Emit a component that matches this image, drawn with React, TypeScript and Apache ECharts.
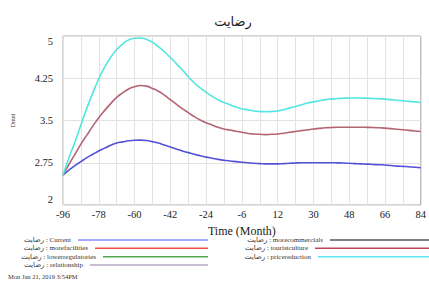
import React, { useEffect, useRef } from "react";
import * as echarts from "echarts";

const times = [-96, -93, -90, -87, -84, -81, -78, -75, -72, -69, -66, -63, -60, -57, -54, -51, -48, -45, -42, -39, -36, -33, -30, -27, -24, -21, -18, -15, -12, -9, -6, -3, 0, 3, 6, 9, 12, 15, 18, 21, 24, 27, 30, 33, 36, 39, 42, 45, 48, 51, 54, 57, 60, 63, 66, 69, 72, 75, 78, 81, 84];

const current = [2.53, 2.62, 2.7, 2.77, 2.84, 2.9, 2.96, 3.01, 3.06, 3.1, 3.12, 3.14, 3.15, 3.152, 3.145, 3.125, 3.1, 3.065, 3.03, 2.995, 2.96, 2.93, 2.9, 2.875, 2.85, 2.83, 2.81, 2.795, 2.78, 2.77, 2.76, 2.75, 2.74, 2.735, 2.73, 2.73, 2.73, 2.735, 2.74, 2.745, 2.75, 2.75, 2.75, 2.75, 2.75, 2.75, 2.748, 2.745, 2.74, 2.735, 2.73, 2.725, 2.72, 2.715, 2.71, 2.7, 2.69, 2.685, 2.68, 2.67, 2.66];
const touristculture = [2.53, 2.72, 2.9, 3.08, 3.24, 3.4, 3.55, 3.68, 3.8, 3.91, 3.99, 4.06, 4.1, 4.12, 4.11, 4.07, 4.02, 3.95, 3.87, 3.79, 3.71, 3.64, 3.57, 3.51, 3.46, 3.42, 3.38, 3.35, 3.33, 3.31, 3.29, 3.27, 3.26, 3.255, 3.25, 3.255, 3.26, 3.275, 3.29, 3.305, 3.32, 3.335, 3.35, 3.36, 3.37, 3.375, 3.38, 3.38, 3.38, 3.38, 3.38, 3.378, 3.375, 3.37, 3.365, 3.355, 3.345, 3.335, 3.325, 3.315, 3.305];
const pricereduction = [2.53, 2.84, 3.12, 3.42, 3.72, 3.99, 4.24, 4.45, 4.62, 4.76, 4.86, 4.93, 4.96, 4.965, 4.94, 4.89, 4.81, 4.72, 4.62, 4.51, 4.4, 4.28, 4.17, 4.08, 4.0, 3.93, 3.87, 3.82, 3.78, 3.74, 3.71, 3.69, 3.67, 3.66, 3.655, 3.66, 3.67, 3.69, 3.72, 3.75, 3.78, 3.81, 3.83, 3.85, 3.87, 3.88, 3.89, 3.895, 3.9, 3.9, 3.9, 3.895, 3.89, 3.885, 3.88, 3.87, 3.86, 3.85, 3.84, 3.83, 3.82];

const xTicks = { min: -96, max: 84, step: 18 };
const yTicks = { min: 2, max: 5, step: 0.75 };

const titleText = "رضایت";
const varPrefix = "رضایت : ";
const dateText = "Mon Jan 21, 2019 3:54PM";

const leftLegend = ["Current", "morefacilities", "lowerregulatories", "relationship"];
const rightLegend = ["morecommercials", "touristculture", "pricereduction"];

const lineColors: Record<string, string> = {
  Current: "#5252d6",
  morefacilities: "#f05050",
  lowerregulatories: "#4fa84f",
  relationship: "#b4a8c4",
  morecommercials: "#555555",
  touristculture: "#b46472",
  pricereduction: "#52e6e0",
};
const legendColors: Record<string, string> = {
  Current: "#8a8aff",
  morefacilities: "#f05050",
  lowerregulatories: "#4fa84f",
  relationship: "#b4a8c4",
  morecommercials: "#555555",
  touristculture: "#c04656",
  pricereduction: "#5ae6f2",
};
const seriesData: Record<string, number[]> = {
  Current: current,
  touristculture: touristculture,
  pricereduction: pricereduction,
};

const FONT = "'Liberation Serif', 'DejaVu Sans', serif";

export default function App() {
  const ref = useRef<HTMLDivElement>(null);
  useEffect(() => {
    if (!ref.current) return;
    const chart = echarts.init(ref.current, null, { renderer: "svg" });
    const drawOrder = ["morefacilities", "lowerregulatories", "relationship", "morecommercials", "Current", "touristculture", "pricereduction"];
    const series = drawOrder.map((name) => ({
      type: "line",
      name,
      data: (seriesData[name] || []).map((v, i) => [times[i], v]),
      smooth: true,
      showSymbol: false,
      symbol: "none",
      lineStyle: { color: lineColors[name], width: 1.6 },
      itemStyle: { color: lineColors[name] },
    }));
    const leftWidths = [130, 113, 105, 118];
    const rightWidths = [99, 114, 111];
    const rowY = [240, 248.3, 256.7, 265];
    const legends: any[] = [];
    const mk = (name: string, right: number, top: number, w: number) => ({
      data: [{ name, icon: "rect", itemStyle: { color: legendColors[name] } }],
      right, top, itemWidth: w, itemHeight: 1.5, align: "right", padding: 0, itemGap: 0, selectedMode: false,
      formatter: (n: string) => varPrefix + n,
      textStyle: { fontFamily: FONT, fontSize: 7, color: "#333", lineHeight: 8, padding: [0, 2, 0, 0] },
    });
    leftLegend.forEach((name, i) => legends.push(mk(name, 221, rowY[i] - 4, leftWidths[i])));
    rightLegend.forEach((name, i) => legends.push(mk(name, 0, rowY[i] - 4, rightWidths[i])));
    chart.setOption({
      animation: false,
      backgroundColor: "#fff",
      title: { text: titleText, left: 228, top: 10, textAlign: "center", textStyle: { fontFamily: FONT, fontSize: 13, fontWeight: "normal", color: "#222" } },
      grid: { left: 63, right: 4, top: 36, bottom: 78, show: true, borderColor: "#a8a8a8", borderWidth: 1, containLabel: false },
      legend: legends,
      xAxis: {
        type: "value",
        min: xTicks.min,
        max: xTicks.max,
        interval: xTicks.step,
        name: "Time (Month)",
        nameLocation: "middle",
        nameGap: 16,
        nameTextStyle: { fontFamily: FONT, fontSize: 12, color: "#222" },
        axisLine: { show: false },
        axisTick: { show: false },
        axisLabel: { fontFamily: FONT, fontSize: 10.5, color: "#222", margin: 4 },
        splitLine: { show: true, lineStyle: { color: "#e2e2e2", width: 1 } },
        minorTick: { show: false, splitNumber: 2 },
        minorSplitLine: { show: true, lineStyle: { color: "#e2e2e2", width: 1 } },
      },
      yAxis: {
        type: "value",
        min: yTicks.min,
        max: yTicks.max,
        interval: yTicks.step,
        name: "Dmnl",
        nameLocation: "middle",
        nameGap: 47,
        nameTextStyle: { fontFamily: FONT, fontSize: 6, color: "#333" },
        axisLine: { show: false },
        axisTick: { show: false },
        axisLabel: { fontFamily: FONT, fontSize: 10.5, color: "#222", margin: 10, verticalAlignMinLabel: "bottom", verticalAlignMaxLabel: "top" },
        splitLine: { show: true, lineStyle: { color: "#e2e2e2", width: 1 } },
      },
      graphic: [
        { type: "text", left: 8, top: 273, style: { text: dateText, fontFamily: FONT, fontSize: 6.5, fill: "#333" } },
      ],
      series,
    } as any);
    return () => chart.dispose();
  }, []);
  return <div ref={ref} style={{ position: "fixed", left: 0, top: 0, width: 429, height: 283 }} />;
}
